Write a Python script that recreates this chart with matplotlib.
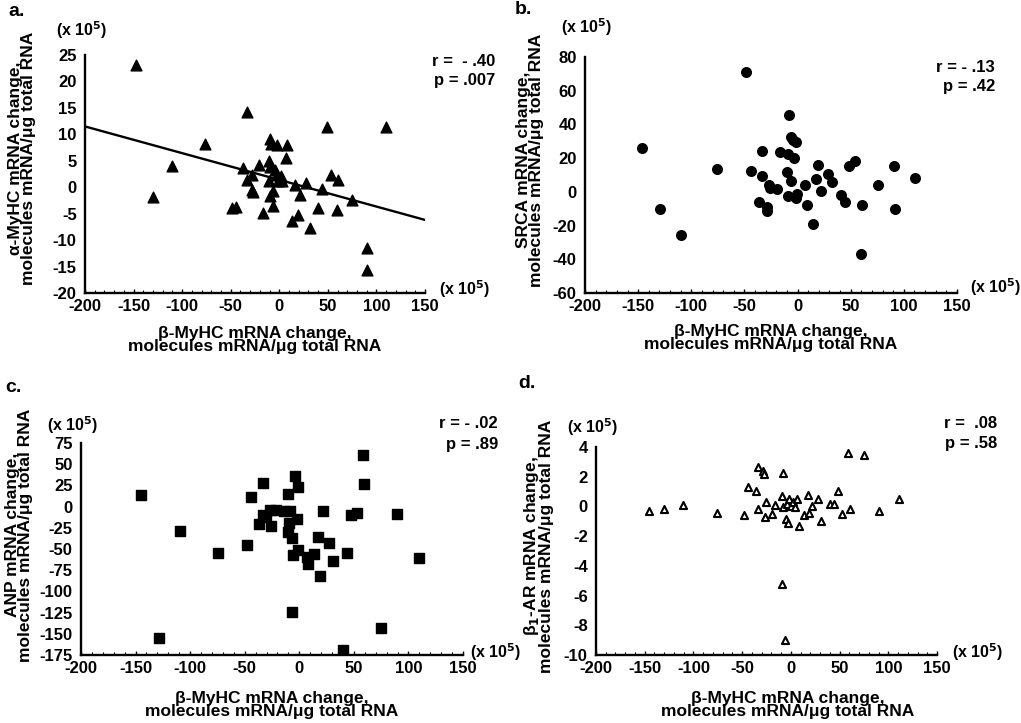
import numpy as np
import matplotlib
matplotlib.use("Agg")
import matplotlib.pyplot as plt
from matplotlib.ticker import MultipleLocator

plt.rcParams['font.family'] = ['Liberation Sans', 'DejaVu Sans']
plt.rcParams['font.weight'] = 'bold'
plt.rcParams['axes.unicode_minus'] = False

# ---------------- data ----------------
# panel a: beta-MyHC change vs alpha-MyHC change (x 10^5)
a_x = [-147.9, -130.4, -110.8, -76.5, -33.6, -37.1, -33.6, -28.5, -28.5, -26.8,
       -20.6, -9.6, -8.9, -2.7, 7.5, 6.9, -10.3, -9.6, -10.3, -4.5,
       -2.7, 1.4, -1.0, 3.1, -6.2, -9.6, -6.9, -17.2, -49.1, -44.6,
       16.1, 27.5, 21.3, 18.9, 13.4, 31.6, 40.2, 44.3, 52.8, 60.1,
       59.0, 74.5, 48.7, 109.8, 90.6, 90.6]
a_y = [23.1, -1.9, 4.1, 8.1, 14.3, 3.6, 1.4, 2.3, -0.5, -0.9,
       4.2, 9.2, 8.1, 7.9, 7.9, 5.6, 5.0, 3.9, 1.1, 3.3,
       2.3, 2.2, 1.1, 1.1, -0.8, -1.6, -3.6, -4.9, -3.9, -3.8,
       0.4, 0.8, -1.4, -5.2, -6.4, -7.7, -3.9, -0.4, 2.3, 1.3,
       -4.4, -2.4, 11.4, 11.4, -11.4, -15.7]

# panel b: SRCA change
b_x = [-146.7, -129.4, -109.9, -75.9, -48.2, -43.8, -33.4, -33.1, -36.2, -28.3,
       -28.3, -27.1, -26.1, -19.2, -16.4, -9.4, -3.5, -8.5, -6.6, -4.1,
       -1.3, -9.8, -6.3, -9.1, -1.9, -0.9, 6.6, 17.0, 19.2, 8.5,
       14.2, 22.3, 28.3, 32.1, 40.9, 45.0, 48.5, 53.8, 60.7, 59.5,
       75.5, 91.0, 91.3, 110.8]
b_y = [25.9, -10.3, -25.5, 13.4, 70.9, 12.3, 24.1, 9.3, -6.1, -8.9,
       -11.3, 4.3, 2.0, 1.6, 23.5, 22.7, 19.8, 45.5, 32.4, 31.0,
       29.6, 11.5, 6.7, -2.4, -3.4, -1.0, 4.3, 7.5, 15.8, -7.7,
       -19.2, 0.6, 10.7, 5.9, -2.0, -5.9, 15.2, 18.2, -7.9, -36.8,
       3.8, 15.4, -10.1, 8.5]

# panel c: ANP change
c_x = [-145.3, -128.3, -109.4, -74.8, -48.0, -44.1, -33.4, -36.5, -33.4, -30.4,
       -26.7, -25.8, -21.3, -13.7, -8.5, -10.3, -4.3, -1.5, -2.1, -9.7,
       -10.3, -7.0, -5.5, -1.2, -7.0, 6.7, 7.6, 13.7, 16.7, 18.8,
       21.3, 27.4, 31.3, 44.1, 47.7, 53.2, 58.4, 59.6, 40.1, 74.5,
       89.7, 109.4]
c_y = [13.8, -154.8, -29.1, -54.2, -45.6, 11.0, 27.5, -20.8, -9.8, -11.8,
       -3.9, -22.4, -3.9, -5.1, -5.1, 14.9, 36.1, 23.6, -14.9, -19.6,
       -29.5, -37.3, -56.6, -51.1, -123.8, -58.9, -67.6, -55.8, -35.4, -81.7,
       -4.7, -42.4, -64.0, -54.2, -9.8, -7.1, 60.9, 26.7, -169.0, -142.6,
       -8.6, -60.9]

# panel d: beta1-AR change
d_x = [-146.1, -130.0, -110.2, -75.4, -48.1, -44.4, -35.8, -33.4, -33.4, -29.0,
       -27.6, -25.9, -26.6, -19.1, -16.4, -9.6, -8.5, -8.9, -6.1, -7.8,
       -5.1, -2.7, -4.4, -1.7, 0.0, 2.4, 4.1, 6.8, 8.5, 13.3,
       17.1, 18.8, 22.2, 28.0, 31.4, 39.9, 44.4, 48.5, 52.9, 58.7,
       60.4, 75.1, 90.1, 110.6]
d_y = [-0.29, -0.16, 0.09, -0.45, -0.58, 1.30, 1.06, -0.18, 2.63, 2.36,
       2.20, 0.27, -0.74, -0.49, 0.09, 0.67, 2.25, -5.24, -8.99, -0.07,
       -0.85, -1.12, 0.16, 0.49, 0.0, 0.27, -0.04, 0.49, -1.35, -0.58,
       0.74, -0.45, 0.0, 0.49, -0.97, 0.18, 0.18, 1.06, -0.49, 3.60,
       -0.18, 3.48, -0.34, 0.49]

x_ticks = [-200, -150, -100, -50, 0, 50, 100, 150]
a_yticks = [25, 20, 15, 10, 5, 0, -5, -10, -15, -20]
b_yticks = [80, 60, 40, 20, 0, -20, -40, -60]
c_yticks = [75, 50, 25, 0, -25, -50, -75, -100, -125, -150, -175]
d_yticks = [4, 2, 0, -2, -4, -6, -8, -10]

panel_letters = ['a.', 'b.', 'c.', 'd.']
y_labels = ['α-MyHC mRNA change,\nmolecules mRNA/μg total RNA',
            'SRCA mRNA change,\nmolecules mRNA/μg total RNA',
            'ANP mRNA change,\nmolecules mRNA/μg total RNA',
            'β$_1$-AR mRNA change,\nmolecules mRNA/μg total RNA']
x_label = 'β-MyHC mRNA change,\nmolecules mRNA/μg total RNA'
stats = [('r =  - .40', 'p = .007'), ('r = - .13', 'p = .42'),
         ('r = - .02', 'p = .89'), ('r =  .08', 'p = .58')]
unit = '(x 10$^5$)'

# ---------------- figure ----------------
W, H = 1021, 723
fig = plt.figure(figsize=(W / 100, H / 100), dpi=100)

def px_axes(l, t, r, b):
    return fig.add_axes([l / W, 1 - b / H, (r - l) / W, (b - t) / H])

def ftxt(x, y, s, **kw):
    fig.text(x / W, 1 - y / H, s, **kw)

boxes = [(85, 55, 425, 293), (585, 57, 957, 293), (81, 443, 463, 655), (596, 447, 937, 655)]
ylims = [(-20, 25), (-60, 80), (-175, 75), (-10, 4)]
yticks = [a_yticks, b_yticks, c_yticks, d_yticks]

axes = []
for i, box in enumerate(boxes):
    ax = px_axes(*box)
    axes.append(ax)
    ax.set_xlim(-200, 150)
    ax.set_ylim(*ylims[i])
    ax.set_xticks(x_ticks)
    ax.set_yticks(yticks[i])
    ax.xaxis.set_minor_locator(MultipleLocator(10))
    ax.tick_params(axis='x', which='major', direction='in', length=3, width=1, labelsize=12, pad=4)
    ax.tick_params(axis='x', which='minor', direction='in', length=2, width=0.8)
    ax.tick_params(axis='y', which='both', length=0, labelsize=12, pad=6)
    for s in ['top', 'right']:
        ax.spines[s].set_visible(False)
    for s in ['left', 'bottom']:
        ax.spines[s].set_linewidth(1.7)
    for lab in ax.get_xticklabels() + ax.get_yticklabels():
        lab.set_fontweight('bold')
    ax.set_xlabel(x_label, fontsize=12.5, fontweight='bold', linespacing=0.85)
    ax.set_ylabel(y_labels[i], fontsize=12.5, fontweight='bold', linespacing=0.85)

# markers
ax = axes[0]
ax.scatter(a_x, a_y, marker='^', s=60, color='black', zorder=3)
coef = np.polyfit(a_x, a_y, 1)
xl = np.array(ax.get_xlim())
ax.plot(xl, np.polyval(coef, xl), color='black', lw=1.7, zorder=2)

axes[1].scatter(b_x, b_y, marker='o', s=48, color='black', zorder=3)
axes[2].scatter(c_x, c_y, marker='s', s=42, color='black', zorder=3)
axes[3].scatter(d_x, d_y, marker='^', s=26, facecolor='white', edgecolor='black',
                linewidths=1.5, zorder=3)

# label positions
xl_pos = [(255, 340), (771, 338), (272, 705), (788, 705)]
yl_pos = [(22, 158), (530, 160), (19, 535), (538, 546)]
for i, ax in enumerate(axes):
    x0, y0, x1, y1 = boxes[i]
    cx, cy = xl_pos[i]
    ax.xaxis.set_label_coords((cx - x0) / (x1 - x0), (y1 - cy) / (y1 - y0))
    lx, ly = yl_pos[i]
    ax.yaxis.set_label_coords((lx - x0) / (x1 - x0), (y1 - ly) / (y1 - y0))
    ax.xaxis.label.set_va('center')
    ax.yaxis.label.set_va('center')

# panel letters
letter_pos = [(8, 12), (515, 10), (5, 388), (518, 383)]
for (x, y), s in zip(letter_pos, panel_letters):
    ftxt(x, y, s, fontsize=14, fontweight='bold', va='center', ha='left')

# unit labels
unit_top = [(82, 30), (587, 27), (73, 425), (593, 427)]
unit_right = [(465, 289), (996, 287), (496, 652), (978, 652)]
for (x, y) in unit_top + unit_right:
    ftxt(x, y, unit, fontsize=11.5, fontweight='bold', va='center', ha='center')

# stats
stat_pos = [(495, 61, 80), (995, 67, 87), (498, 424, 445), (997, 423, 443)]
for (x, y1, y2), (r, p) in zip(stat_pos, stats):
    ftxt(x, y1, r, fontsize=12, fontweight='bold', va='center', ha='right')
    ftxt(x, y2, p, fontsize=12, fontweight='bold', va='center', ha='right')

fig.savefig('out.png', dpi=100)
